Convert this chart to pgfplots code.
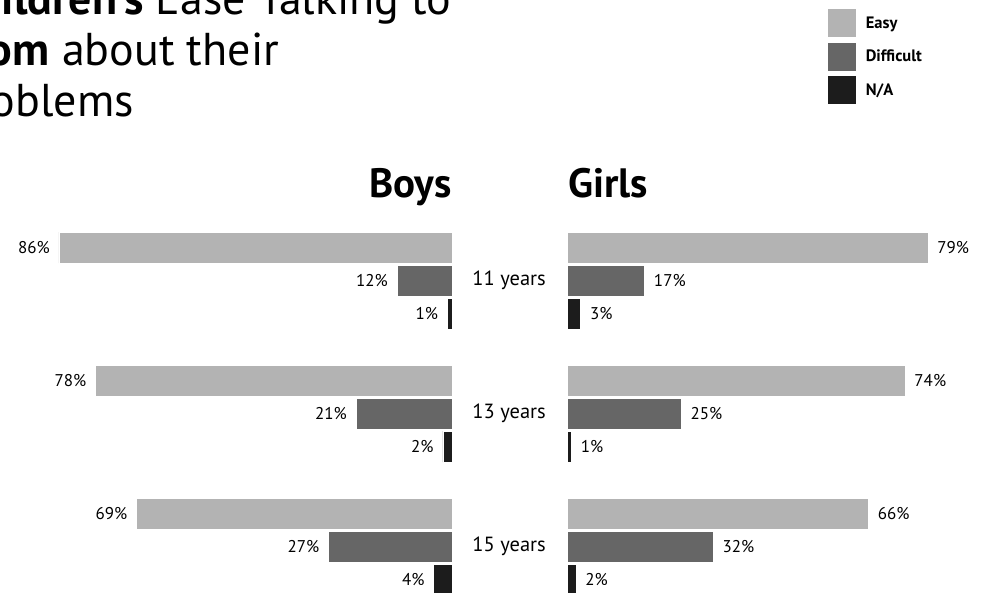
\documentclass[border=0pt]{standalone}
\usepackage{pgfplots}
\pgfplotsset{compat=1.18}
\usepackage{pgfplotstable}
\usepackage{fontspec}
\setmainfont{PT Sans}
\definecolor{easy}{HTML}{B3B3B3}
\definecolor{diff}{HTML}{666666}
\definecolor{na}{HTML}{1C1C1C}

% y: 2 = 11 years, 1 = 13 years, 0 = 15 years
\pgfplotstableread{
age easy diff na
2 86 12 1
1 78 21 2
0 69 27 4
}\boys
\pgfplotstableread{
age easy diff na
2 79 17 3
1 74 25 1
0 66 32 2
}\girls

\pgfplotsset{
  barbase/.style={
    scale only axis, xbar, bar width=31pt,
    width=434.15pt, height=399pt,
    xmin=0, xmax=95, ymin=-0.5, ymax=2.5,
    axis line style={draw=none}, tick style={draw=none}, major tick length=0pt,
    xtick=\empty, clip=false,
    point meta=x,
    /pgf/number format/assume math mode=true,
    nodes near coords={\pgfmathprintnumber{\pgfplotspointmeta}\%},
  },
  easybar/.style={fill=easy, draw=white, line width=0.6pt, bar shift=33pt},
  diffbar/.style={fill=diff, draw=white, line width=0.6pt, bar shift=0pt},
  nabar/.style={fill=na, draw=white, line width=0.6pt, bar shift=-33pt},
}

\begin{document}
\begin{tikzpicture}[x=1pt,y=1pt]
\path[use as bounding box] (0pt,0pt) rectangle (984pt,-592pt);
\clip (0pt,0pt) rectangle (984pt,-592pt);

% Boys
\begin{axis}[barbase, at={(452pt,-214pt)}, anchor=north east, x dir=reverse,
  ytick=\empty,
  nodes near coords style={anchor=east, inner sep=0pt, xshift=-9pt, font=\fontsize{17}{17}\selectfont}]
\addplot[easybar] table[x=easy, y=age] {\boys};
\addplot[diffbar] table[x=diff, y=age] {\boys};
\addplot[nabar] table[x=na, y=age] {\boys};
\end{axis}

% Girls
\begin{axis}[barbase, at={(567pt,-214pt)}, anchor=north west,
  ytick={0,1,2}, yticklabels={15 years,13 years,11 years},
  yticklabel style={anchor=east, inner sep=0pt, xshift=-21pt, font=\fontsize{20.5}{20.5}\selectfont},
  nodes near coords style={anchor=west, inner sep=0pt, xshift=9pt, font=\fontsize{17}{17}\selectfont},
  legend style={at={(0.5989,1.5163)}, anchor=north west, draw=none, fill=none,
    inner sep=0pt, row sep=4pt, column sep=7pt, font=\bfseries\fontsize{16.5}{16.5}\selectfont,
    cells={anchor=west}},
  legend image code/.code={\fill[#1,/tikz/.cd] (0pt,-14.5pt) rectangle (29pt,14.5pt);},
  legend cell align=left]
\addplot[easybar] table[x=easy, y=age] {\girls};
\addplot[diffbar] table[x=diff, y=age] {\girls};
\addplot[nabar] table[x=na, y=age] {\girls};
\legend{Easy, Difficult, N/A}
\end{axis}

\node[anchor=base east, inner sep=0pt, font=\bfseries\fontsize{41}{41}\selectfont] at (452pt,-197pt) {Boys};
\node[anchor=base west, inner sep=0pt, font=\bfseries\fontsize{41}{41}\selectfont] at (568pt,-197pt) {Girls};

\begin{scope}[every node/.style={anchor=base west, inner sep=0pt, font=\fontsize{46}{46}\selectfont}]
\node at (-49pt,-14pt) {\textbf{Children's} Ease Talking to};
\node at (-49pt,-65pt) {\textbf{Mom} about their};
\node at (-49pt,-116pt) {Problems};
\end{scope}
\end{tikzpicture}
\end{document}
